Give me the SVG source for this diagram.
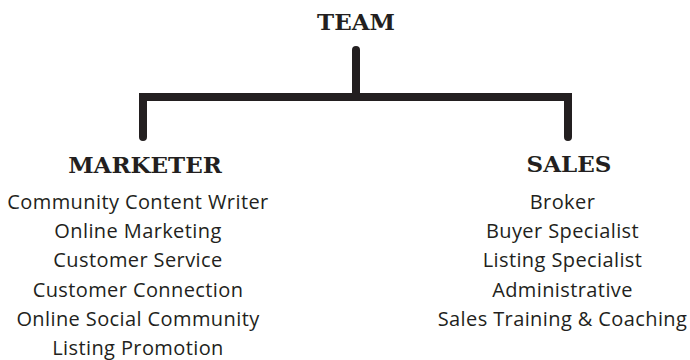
<svg xmlns="http://www.w3.org/2000/svg" width="690" height="360" viewBox="0 0 690 360">
  <style>
    .head { font-family: "DejaVu Serif", "Liberation Serif", serif; font-weight: bold; font-size: 23px; fill: #231f20; text-anchor: middle; }
    .item { font-family: "Open Sans", "Liberation Sans", sans-serif; font-size: 20px; font-weight: 500; letter-spacing: 0.4px; fill: #231f20; text-anchor: middle; }
    .link { fill: none; stroke: #231f20; stroke-width: 8; stroke-linecap: round; stroke-linejoin: miter; }
  </style>
  <rect width="690" height="360" fill="#ffffff"/>

  <g id="connectors">
    <path class="link" d="M356 50 V97"/>
    <path class="link" d="M143 137 V97 H568 V137"/>
  </g>

  <g id="team">
    <text class="head" x="356" y="30">TEAM</text>
  </g>

  <g id="marketer">
    <text class="head" x="145" y="173">MARKETER</text>
    <text class="item" x="138" y="209">Community Content Writer</text>
    <text class="item" x="138" y="238.2">Online Marketing</text>
    <text class="item" x="138" y="267.4">Customer Service</text>
    <text class="item" x="138" y="296.6">Customer Connection</text>
    <text class="item" x="138" y="325.8">Online Social Community</text>
    <text class="item" x="138" y="355">Listing Promotion</text>
  </g>

  <g id="sales">
    <text class="head" x="569" y="172">SALES</text>
    <text class="item" x="562.5" y="209">Broker</text>
    <text class="item" x="562.5" y="238.2">Buyer Specialist</text>
    <text class="item" x="562.5" y="267.4">Listing Specialist</text>
    <text class="item" x="562.5" y="296.6">Administrative</text>
    <text class="item" x="562.5" y="325.8">Sales Training &amp; Coaching</text>
  </g>
</svg>
